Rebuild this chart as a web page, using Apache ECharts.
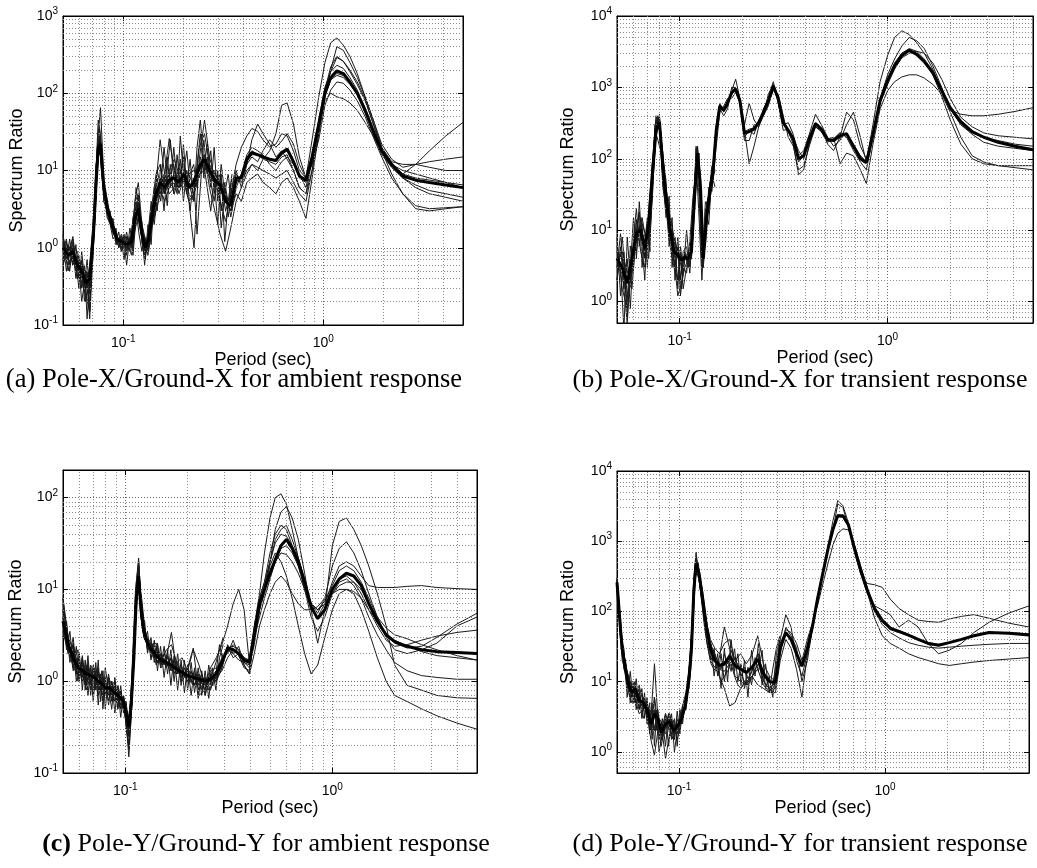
<!DOCTYPE html>
<html><head><meta charset="utf-8">
<script src="https://cdn.jsdelivr.net/npm/echarts@6/dist/echarts.min.js"></script>
<style>html,body{margin:0;padding:0;background:#fff}#c{width:1037px;height:868px}</style>
</head><body><div id="c"></div>
<script>
// ---------- Panel (a): Pole-X/Ground-X ambient ----------
const xA = [0.050,0.053,0.056,0.059,0.062,0.065,0.068,0.071,0.073,0.075,0.077,
0.080,0.084,0.088,0.093,0.098,0.104,0.110,0.115,
0.119,0.124,0.129,0.134,0.140,0.146,0.153,0.161,0.170,
0.180,0.190,0.201,0.213,0.226,0.240,0.255,0.270,0.287,0.305,0.325,0.345,
0.367,0.390,0.415,0.44,0.47,0.50,0.54,0.58,0.62,0.66,0.71,0.76,0.82,0.88,0.95,
1.02,1.09,1.17,1.26,1.36,1.48,1.62,1.78,1.96,2.2,2.5,2.9,3.4,4.1,5.0];
const meanA = [1.0,0.8,0.9,0.6,0.5,0.35,0.4,1.5,6,20,22, 6,3,2,1.3,1.2,1.1,1.2,2.5, 3.2,1.5,1.0,1.3,2.8,5,7,6,7.5, 8,7,9,6,7,11,14,10,7.5,6.5,4,3.5, 8,8,14,17,16,15,14,13.5,17,19,13,8.5,7.5,15,40, 100,160,195,180,140,100,60,32,18,12,8.5,7.5,7,6.5,6.0];
const a1 = [1.4,0.7,1.2,0.5,0.7,0.25,0.15,2.0,9,45,30, 5,2.5,1.8,1.1,1.5,0.9,1.6,4, 5,1.2,0.7,1.8,4,9,12,5,10, 14,9,12,5,4,20,30,12,6,9,3,5, 12,20,28,35,32,25,20,22,30,28,18,10,8,25,90, 250,450,520,420,300,180,90,45,20,12,9,12,18,28,42];
const a2 = [0.7,1.1,0.6,0.8,0.3,0.5,0.12,1.1,4,30,65, 8,3.5,2.2,1.5,0.9,1.3,0.8,2, 4,2,1.3,0.9,2,3,5,8,5, 6,11,7,9,10,8,16,9,10,5,6,2.5, 6,9,12,25,40,30,22,15,18,14,10,6,5,10,30, 90,200,400,360,250,160,90,45,22,14,11,12,13,14,15];
const a3 = [1.1,0.9,1.3,0.4,0.6,0.2,0.6,2.5,12,15,18, 4,2.8,2.4,1.1,1.4,1.0,1.2,4.4, 7,2,0.8,1.5,3,7,25,9,26, 10,5,8,4,1.0,14,45,15,8,4,2.2,5, 10,6,9,12,10,14,18,30,70,75,40,15,8,12,35, 110,220,300,260,190,130,80,40,20,13,12,12,11,10,10];
const a4 = [0.9,0.6,0.8,0.7,0.4,0.4,0.3,1.3,5,18,20, 7,3.2,1.9,1.4,1.1,1.2,1.0,1.8, 2.5,1.6,1.2,1.0,2.2,4,6,4,6, 7,6,10,9,6,10,12,8,7,8,5,3, 5,4,7,8,9,7,6,5,7,8,6,4,2.4,8,30, 90,150,180,170,140,100,60,30,16,11,8,6,5,4.5,4];
const a5 = [1.2,0.5,1.0,0.9,0.5,0.3,0.5,1.8,7,25,24, 6,2.6,1.7,1.2,1.3,1.0,1.4,2.8, 3,1.3,0.9,1.4,3.5,6,5,7,9, 5,8,7,4,5,12,16,6,3,1.5,0.9,1.8, 4,6,12,15,13,18,25,20,24,30,22,12,8,12,25, 70,110,140,135,110,80,50,27,15,8,5,3.5,3.2,3.3,3.4];
const a6 = [0.8,1.0,0.7,0.6,0.35,0.45,0.2,1.0,5,20,28, 6,3,2,1.4,1.2,1.1,1.1,2.2, 3,1.4,1.1,1.2,2.5,4,8,5,7, 9,6,8,7,5,9,10,12,9,7,4,3, 7,9,16,20,18,16,12,10,13,15,12,9,6,15,45, 120,190,230,210,160,110,65,35,19,12,10,9,8,7,6];
const a7 = [1.0,0.7,1.1,0.5,0.6,0.3,0.35,1.6,6,15,19, 5,2.7,2.1,1.3,1.2,1.1,1.3,3, 4,1.6,1.0,1.3,3,5,7,6,8, 8,7,9,6,8,12,13,10,7,6,4.5,4, 9,7,10,12,11,10,9,8,9,10,7,5,4,10,40, 80,100,90,85,75,60,42,28,17,11,8,6.5,5.5,5,4.5];
const a8 = [1.3,0.8,0.9,0.4,0.5,0.5,0.3,1.4,5,22,24, 6,3.1,2,1.2,1.1,1.2,1.1,2.4, 3,1.5,0.9,1.4,2.8,5,7,6,7, 8,8,8,6,7,10,14,11,8,7,4,4, 7,8,15,18,16,14,13,12,15,16,10,6,5,14,40, 110,190,290,260,200,140,85,40,18,9,5,3.2,3,3.2,3.4];
const a9 = [0.6,1.0,0.8,0.6,0.4,0.4,0.5,1.5,6,20,22, 6,3,2,1.3,1.3,1.0,1.3,2.6, 3.4,1.5,1.0,1.2,2.6,5,6,6,7, 8,6,9,6,7,12,13,10,8,6,4,3.5, 8,8,13,16,16,15,14,13,16,18,13,8,7,15,38, 95,150,170,160,130,95,60,32,18,12,9,8,7.5,7,6.5];

// Dense short-period grid for the noisy records (shared by all panels)
const xN = [0.050,0.052,0.054,0.056,0.058,0.060,0.062,0.064,0.066,0.068,0.070,0.072,0.074,0.076,0.078,0.080,
0.083,0.086,0.089,0.092,0.095,0.098,0.101,0.104,
0.108,0.112,0.116,0.120,0.124,0.128,
0.133,0.138,0.143,0.148,
0.154,0.160,0.166,0.172,
0.179,0.186,0.193,0.200,
0.208,0.216,0.225,0.234,0.243,0.253,0.263,0.274,0.285,0.297,0.309,0.322,0.335,0.35];
const nA1 = [1.5,0.7,1.3,0.6,1.1,0.4,0.7,0.2,0.5,0.15,0.8,2,12,35,15,7, 3.5,2.2,2.4,1.2,1.6,0.9,1.5,0.8, 1.8,1.0,4,2,1.4,0.6, 2,1.1,6,3, 12,5,15,6, 20,7,14,4, 10,3,8,1.5,6,25,9,18,5,10,3,7,2.5,6];
const nA2 = [0.7,1.2,0.5,1.0,0.4,0.8,0.3,0.6,0.12,0.4,1.3,4,18,25,9,5, 2.8,3,1.5,1.8,1.0,1.4,1.1,1.6, 0.9,2.5,3,1.5,0.9,1.4, 0.8,3,2.5,8, 4,9,3.5,12, 5,16,6,22, 6,14,4,12,30,8,15,6,20,4,12,5,9,3];
const nA3 = [1.1,0.5,0.9,1.4,0.7,0.3,0.9,0.4,0.3,0.6,0.5,3,8,28,10,6, 2.5,2,1.3,1.5,1.0,1.3,0.7,1.4, 1.1,1.6,6,3,2.2,1.0, 1.5,4,2,5, 8,3,10,25, 8,5,28,9, 18,6,4,20,45,12,6,3,8,2,9,1.2,4,9];
const nA4 = [0.9,1.3,0.6,0.8,0.5,0.6,0.2,0.35,0.7,0.25,1.0,2.5,10,22,18,4, 3,2.7,2,1.1,1.3,1.0,1.2,0.6, 1.4,0.8,2.5,4.5,1.2,0.8, 1.0,2,4,10, 6,20,8,9, 12,6,9,15, 5,9,12,6,15,10,22,7,4,9,1.8,5,3.5,8];

// ---------- Panel (b): Pole-X/Ground-X transient ----------
const xB = [0.050,0.053,0.056,0.059,0.062,0.065,0.068,0.071,0.074,0.077,
0.080,0.083,0.086,0.090,0.094,0.098,0.102,0.106,0.110,0.114,
0.118,0.122,0.126,0.130,0.135,0.140,0.145,0.150,0.156,0.163,
0.170,0.178,0.186,0.195,0.205,0.216,0.228,0.240,0.253,0.267,
0.282,0.298,0.315,0.333,0.352,0.373,0.395,0.42,0.45,0.48,
0.515,0.55,0.59,0.635,0.685,0.74,0.79,0.85,0.92,1.0,
1.08,1.17,1.27,1.38,1.50,1.65,1.82,2.0,2.25,2.55,2.9,3.4,4.1,5.0];
const meanB = [4,3,1.8,4,9,10,5.5,12,60,250, 330,80,30,10,5,4.5,3.8,4.2,4,5, 30,120,40,4,15,35,70,250,550,480, 600,850,950,650,230,240,260,320,450,650, 1050,700,320,250,190,100,110,190,310,260, 185,180,210,225,150,100,88,220,650,1250, 2000,2800,3300,2900,2300,1600,900,520,330,240,200,170,150,134];
const b1 = [6,1.5,0.8,3,14,5,3,20,90,400, 250,50,20,6,3,2,2.5,5,3,8, 50,140,25,5,12,45,90,300,600,450, 550,900,1300,700,300,600,350,280,500,700, 1200,600,300,320,220,110,130,220,420,300, 200,150,180,300,450,200,90,300,1200,2800, 5000,6200,5500,4200,3000,1800,900,480,420,400,400,420,460,520];
const b2 = [3,2.5,0.5,6,5,15,9,4,40,200, 350,120,40,15,8,5,3,4,5,4, 20,100,60,3,25,30,60,150,450,550, 700,700,850,600,200,250,220,350,400,600, 900,800,400,200,150,70,80,150,280,240, 170,190,230,200,130,90,70,200,700,1500, 2500,3800,5000,4500,3500,2000,1000,500,300,220,170,150,140,130];
const b3 = [2,8,1.2,2.5,7,12,4,7,30,300, 400,100,25,8,4,1.2,1.8,3,4,6, 30,150,35,3,18,40,80,280,500,400, 500,1000,1000,600,180,180,300,300,420,800, 1100,600,250,260,200,130,100,170,280,250, 160,130,200,450,350,150,100,200,600,1100, 1800,2600,3000,3200,3000,2200,1300,700,380,280,230,210,200,190];
const b4 = [5,4,2,1.5,10,8,6,15,80,350, 300,60,20,12,7,5,1.5,4,3.5,4, 35,130,30,6,16,38,65,220,520,500, 650,800,900,700,250,85,150,280,400,550, 950,700,350,240,160,60,70,160,300,260, 190,200,85,120,110,70,45,160,500,900, 1200,1400,1500,1500,1350,1100,800,450,200,110,90,80,75,70];
const b5 = [3.5,5,2.5,4,8,10,7,10,60,220, 320,90,35,10,5,4,4,4.5,4,5, 28,110,45,4,20,45,75,260,560,500, 600,850,950,650,220,250,260,330,460,650, 1050,650,320,250,200,100,110,190,320,270, 190,180,200,220,160,110,90,230,650,1300, 2200,3000,3400,3000,2300,1500,750,350,160,100,85,80,80,80];
const b6 = [4,3,2,3,9,11,5,11,55,260, 350,70,30,9,4,4.5,3.8,4,4.2,5, 30,120,40,5,22,40,70,240,540,470, 580,820,950,640,240,260,270,330,440,640, 1050,680,330,240,190,90,110,190,300,260, 180,190,230,220,150,110,90,220,640,1300, 2100,3000,3500,3200,2500,1700,950,500,300,230,200,180,160,150];
const nB1 = [8,1.2,5,0.6,3,15,4,25,6,2,12,5,90,120,400,250, 60,15,30,3,8,1.5,6,2.5, 10,3,8,140,30,3, 20,12,60,40];
const nB2 = [2,6,1.5,4,0.8,8,20,6,15,9,3,30,40,250,200,150, 100,50,8,15,2,6,1.2,3, 2.5,7,30,60,120,8, 6,40,35,100];
const nB3 = [5,3,0.4,8,2,4,10,18,3,7,15,8,30,300,280,420, 40,20,15,5,3,8,2,5, 6,2.5,20,100,15,2, 25,20,45,70];
const nB4 = [3,9,2,1,6,3,14,9,12,4,6,12,60,180,350,300, 120,35,6,10,4,2,5,1.5, 3,5,12,150,80,4, 10,30,80,80];

// ---------- Panel (c): Pole-Y/Ground-Y ambient ----------
const xC = [0.050,0.053,0.056,0.059,0.062,0.065,0.068,0.071,0.074,0.077,
0.080,0.083,0.086,0.089,0.092,0.095,0.098,0.101,0.104,0.107,
0.110,0.113,0.116,0.119,0.123,0.128,0.134,0.141,0.149,0.158,
0.167,0.177,0.188,0.200,0.213,0.227,0.242,0.258,0.275,0.293,
0.312,0.332,0.353,0.375,0.398,0.42,0.445,0.47,0.50,0.53,
0.565,0.60,0.64,0.685,0.735,0.79,0.85,0.92,1.0,1.08,
1.17,1.27,1.38,1.50,1.65,1.82,2.0,2.3,2.7,3.2,4.0,5.0];
const meanC = [4.5,2.5,1.8,1.4,1.3,1.2,1.15,1.1,1.0,0.95, 0.85,0.85,0.8,0.75,0.7,0.65,0.6,0.45,0.32,0.6, 1.8,8,14,6,3.5,2.6,2.2,1.9,1.7,1.6, 1.5,1.35,1.25,1.15,1.1,1.05,1.0,1.05,1.2,1.6, 2.3,2.2,2.0,1.7,1.6,3.3,7,10,15,21, 30,35,28,20,12,6.5,4.8,6,10,13, 15,14,11,7,4.5,3.2,2.7,2.4,2.2,2.1,2.05,2.0];
const c1 = [8,3,2.2,1.0,1.8,0.9,1.5,1.2,0.7,1.3, 0.7,1.1,0.9,0.6,0.8,0.5,0.7,0.35,0.2,0.5, 2,12,22,5,3,2.8,1.8,2.3,1.5,1.9, 1.4,1.6,1.1,1.3,0.9,1.1,0.8,1.2,1.0,1.4, 2.5,2,2.4,1.5,1.2,4,9,25,60,100, 110,85,45,22,10,5,3.5,5,9,12, 13,11,8,5,3.2,2.2,1.6,1.3,1.15,1.1,1.05,1.05];
const c2 = [5,2.2,1.5,1.6,1.0,1.4,0.9,1.0,1.2,0.8, 1.0,0.7,0.9,0.8,0.6,0.8,0.5,0.5,0.28,0.7, 1.5,7,18,7,4,2.5,2.6,1.5,2,1.4, 1.8,1.2,1.4,1.0,1.2,0.9,1.1,0.8,1.3,1.8, 2,2.8,1.9,1.4,1.3,3,6,9,20,45, 70,80,60,35,15,6,2.6,6,30,55, 60,45,30,18,9,4,1.5,0.9,0.8,0.7,0.66,0.65];
const c3 = [3,2.8,1.4,1.2,1.6,1.0,1.2,1.3,0.9,1.1, 0.8,0.9,0.7,0.9,0.7,0.6,0.7,0.5,0.4,0.8, 2,9,13,6,3.2,2.4,2.5,1.8,1.8,1.5, 1.6,1.3,1.2,1.2,1.1,1.0,0.9,1.1,1.3,1.5, 2.2,2.5,2.2,1.8,1.6,3.5,8,12,25,40, 50,45,30,18,10,6,5,7,12,18, 20,18,14,11,10.5,10.5,10.5,10.8,11,10.5,10.2,10];
const c4 = [4,2,2.5,1.4,1.1,1.5,1.0,0.8,1.3,0.9, 0.9,0.6,1.0,0.7,0.8,0.55,0.6,0.4,0.25,0.5, 1.6,8,15,6,3.8,2.8,2,2.1,1.6,1.7, 1.3,1.5,1.0,1.3,1.2,0.8,1.0,1.1,1.0,1.4, 2.4,1.8,2.0,1.6,1.8,4,8,12,20,32, 40,38,30,22,13,7,5.5,8,18,28, 33,25,16,9,5,3.2,2.6,2.3,2.4,3,4.2,5.5];
const c5 = [6,3,1.3,1.8,1.2,1.0,1.4,1.0,1.0,0.7, 0.8,1.0,0.6,0.8,0.5,0.7,0.55,0.45,0.3,0.6, 2,6,12,5,3.4,2.5,2.3,1.7,1.6,1.5, 1.7,1.2,1.3,1.0,1.0,1.2,0.9,1.0,1.1,1.5, 2.2,2,1.7,1.6,1.5,3,5,8,13,20, 28,30,25,18,11,7,6,7,10,13, 14,12,9,6,4,2.8,2.4,2.5,2.8,3.1,3.4,3.6];
const c6 = [3.5,2,2.4,1.5,1.4,0.8,1.2,1.4,0.8,1.0, 0.9,0.8,0.7,0.6,0.9,0.65,0.5,0.5,0.35,0.6, 2,8,14,6,3,2.6,2.4,1.8,1.9,1.6, 1.4,1.4,1.2,1.1,0.9,1.0,1.1,0.9,1.1,1.3, 1.8,2.2,1.9,1.5,1.2,2,4,6,9,12, 14,12,9,7,6,6,6.5,8,9,10, 10,9.5,8,6,4.5,3.3,2.8,2.4,2.1,1.9,1.8,1.7];
const c7 = [5,2.6,1.8,1.2,1.5,1.1,1.0,1.1,1.2,0.9, 0.7,0.8,0.8,0.9,0.6,0.6,0.65,0.55,0.35,0.7, 1.7,7,13,6,3.6,3,2.5,2.6,1.7,2.2, 2.5,1.6,1.8,1.3,2.2,1.5,0.9,1.4,1.8,2.5, 4,7,10,6,1.5,2.5,6,10,18,25, 20,14,8,4,2,1.2,1.5,3,6,9, 10,9,6,3.5,1.8,1.0,0.7,0.6,0.5,0.42,0.35,0.3];
const c8 = [4,2.5,2,1.4,1.3,1.3,1.1,1.2,1.0,1.0, 0.9,0.9,0.85,0.75,0.7,0.7,0.6,0.45,0.3,0.55, 1.9,8,14,6,3.6,2.6,2.1,2,1.7,1.6, 1.5,1.4,1.3,1.2,1.2,1.1,1.0,1.0,1.1,1.5, 2.2,2.3,2,1.8,1.7,3.4,7,10,14,20, 25,24,20,15,10,7,6,7,9,11, 12,12,10,7,5,3.8,3.2,2.9,2.5,2.2,1.9,1.7];
const c9 = [7,2.8,1.6,2.2,1.1,1.4,1.2,0.9,1.1,1.2, 0.8,0.7,0.9,1.0,0.6,0.5,0.6,0.35,0.15,0.45, 1.5,9,20,8,4.5,2.2,2.4,2.4,1.4,1.8, 3.4,1.3,1.1,1.4,2.3,0.7,0.8,1.3,1.4,1.7, 2.3,2.4,2.2,1.6,1.4,3,6,11,20,35, 45,50,35,22,12,7,6,7.5,11,16, 18,16,12,8,5,3,2.2,2,2.2,2.6,4,5];
const nC1 = [6,2.2,3.5,1.4,2.4,1.0,1.9,0.9,1.6,0.7,1.5,0.8,1.7,0.6,1.3,0.5, 1.1,0.6,1.0,0.5,0.9,0.45,0.6,0.25, 0.9,6,18,5,4.5,2, 3,1.6,2.6,1.4, 2.4,1.2,2.2,1.0,2.0,0.9, 1.7,0.8,1.6,0.75,1.4,0.7,1.3,0.65,1.4,0.8,1.8,2.5];
const nC2 = [3,4.5,1.8,2.6,1.2,2,0.8,1.7,0.7,1.4,0.6,1.3,0.55,1.2,0.5,1.1, 0.55,1.0,0.45,0.9,0.4,0.7,0.3,0.2, 1.5,10,20,4,2.8,3.5, 1.7,2.8,1.3,2.4, 1.1,2.2,0.9,1.9,0.8,1.7, 0.75,1.5,0.7,1.4,0.65,1.3,0.7,1.5,0.9,1.2,2.5,1.6];
const nC3 = [5,2.8,2,3,1.3,1.1,1.8,0.8,1.4,1.0,0.7,1.6,0.8,1.2,0.6,1.4, 0.8,0.5,1.1,0.6,0.8,0.5,0.35,0.18, 0.6,8,16,7,3,2.4, 2.2,1.8,2.5,1.5, 2.0,1.5,1.8,1.2,1.6,1.1, 1.4,1.0,1.3,0.9,1.2,0.8,1.1,0.8,0.9,1.0,1.4,2.0];
const nC4 = [8,3.5,1.6,2.2,1.0,1.6,1.2,1.0,1.9,0.8,1.2,0.9,1.4,0.8,1.1,0.75, 1.2,0.7,0.8,0.6,0.75,0.55,0.5,0.3, 1.2,7,12,8,3.8,2.2, 2.6,2.2,1.6,2.0, 1.5,1.9,1.3,1.7,1.2,1.5, 1.1,1.4,1.0,1.3,0.9,1.2,0.7,1.0,1.2,1.6,2.2,3];

// ---------- Panel (d): Pole-Y/Ground-Y transient ----------
const xD = [0.050,0.051,0.052,0.053,0.055,0.057,0.059,0.061,0.064,0.067,
0.070,0.073,0.076,0.079,0.082,0.086,0.090,0.094,0.098,0.103,
0.108,0.112,0.115,0.118,0.121,0.125,0.130,0.136,0.142,0.149,
0.157,0.166,0.176,0.187,0.199,0.212,0.226,0.241,0.257,0.275,
0.294,0.31,0.33,0.35,0.372,0.395,0.42,0.445,0.47,0.50,
0.53,0.56,0.59,0.625,0.665,0.71,0.76,0.82,0.89,0.97,
1.06,1.17,1.3,1.45,1.62,1.82,2.05,2.35,2.7,3.2,4.0,5.0];
const meanD = [260,120,55,30,15,9,7,8,5.5,5, 4,2.5,3.5,3,1.9,2.5,2.7,2,2.3,3, 5,12,30,200,480,350,160,60,30,20, 17,18,23,17,15,13.5,16,21,13,10, 9.8,30,50,40,25,16.6,30,62,150,360, 800,1500,2300,2300,1700,800,400,200,110,75, 58,52,46,40,35,33,36,40,45,50,49,46];
const d1 = [300,150,45,35,12,10,6,10,4,6, 3,2,6,2.5,1.2,3,2,1.5,2.8,2.5, 6,10,40,300,700,300,120,40,20,16, 22,60,30,12,10,9,14,25,10,8, 8,40,90,60,20,12,25,55,140,350, 900,2000,3800,3200,1800,800,350,250,240,220, 150,110,90,75,72,70,78,85,90,80,68,60];
const d2 = [250,100,70,25,20,8,9,6,7,4, 5,2,2.2,4,1.5,2,3.5,2.2,1.8,3.5, 4,14,25,150,550,400,170,70,25,25, 15,14,18,22,13,9,12,15,9,7, 12,25,60,45,30,10,20,60,140,350, 800,1500,3400,3000,1600,700,350,180,120,105, 90,60,75,60,35,25,28,35,50,70,95,120];
const d3 = [280,140,40,20,14,7,5,6,3.5,4, 3.5,1.5,0.9,2,2.5,0.8,1.8,1.5,3,2.5, 6,8,20,180,400,280,130,55,35,25, 12,8,4.5,5,8,10,12,9,8,7, 7,20,40,30,15,6,25,60,160,380, 850,1400,2400,2200,1600,850,420,190,80,45, 35,30,25,22,20,18,17,18,19,20,21,22];
const d4 = [220,90,60,25,16,12,8,5,6,3, 4.5,3,18,3,2,3.5,2.2,2.8,1.9,4, 7,15,35,250,600,380,200,70,40,30, 25,35,40,20,25,18,24,45,18,12, 10,35,55,50,35,20,40,70,120,250, 500,900,1300,1500,1450,900,450,220,100,65, 50,42,36,33,31,30,31,32,33,34,35,35];
const d5 = [270,110,50,35,16,9,8,7,5,5.5, 4,2.5,3,3.5,2,2.4,2.5,2.2,2.4,3, 5,11,28,210,500,340,150,55,28,19, 17,17,25,16,16,14,16,20,14,10, 10,30,48,38,24,18,30,60,150,360, 800,1500,2200,2200,1700,800,400,200,100,70, 55,50,45,40,36,34,36,40,45,50,50,48];
const nD1 = [300,40,30,6,14,5,11,4,8,3,6,1.8,5,1.2,4,1.5, 3,1.2,3.5,1.5,3,1.2,4,2.5, 6,10,50,350,500,180, 70,30,35,12, 25,8,30,10,40,14, 25,9,20,6,28,12,35,9,18,7,15,30,45];
const nD2 = [200,80,15,12,5,9,4,8,3,7,2.5,5,1.5,4,2,3, 1.5,3.5,1.2,3,1.5,3.8,1.8,4, 4,14,80,450,380,250, 100,45,20,30, 12,25,10,22,14,30, 10,18,8,16,9,22,14,28,8,12,6,14,30];
const nD3 = [280,65,25,14,6,10,5,9,6,4,5,3.5,2.2,6,2,3, 2.5,1.8,2,3.5,1.0,2,2.5,3, 5,9,40,300,420,220, 90,50,30,25, 20,15,25,18,28,20, 18,12,16,11,14,20,25,15,12,8,9,18,40];
const nD4 = [240,50,18,8,10,6,8,6,4.5,6,3,4,3.5,2,3,1.0, 1.8,2.2,3.5,1.8,2.4,1.5,2.2,4.5, 6,15,70,420,350,160, 60,30,18,15, 14,10,12,14,18,12, 9,8,10,9,11,15,18,12,9,8,7,25,40];

// ---------- Grid-line positions (minor decades) ----------
const minorX = [0.06,0.07,0.08,0.09,0.2,0.3,0.4,0.5,0.6,0.7,0.8,0.9,2,3,4];
const minorYA = [0.2,0.3,0.4,0.5,0.6,0.7,0.8,0.9,2,3,4,5,6,7,8,9,20,30,40,50,60,70,80,90,200,300,400,500,600,700,800,900];
const minorYBD = [0.6,0.7,0.8,0.9,2,3,4,5,6,7,8,9,20,30,40,50,60,70,80,90,200,300,400,500,600,700,800,900,2000,3000,4000,5000,6000,7000,8000,9000];
const minorYC = [0.2,0.3,0.4,0.5,0.6,0.7,0.8,0.9,2,3,4,5,6,7,8,9,20,30,40,50,60,70,80,90];

// ---------- Captions & labels ----------
const captions = ['(a) Pole-X/Ground-X for ambient response','(b) Pole-X/Ground-X for transient response','{b|(c)} Pole-Y/Ground-Y for ambient response','(d) Pole-Y/Ground-Y for transient response'];
const xName = 'Period (sec)';
const yName = 'Spectrum Ratio';

const SANS = 'Liberation Sans';
const SERIF = 'Liberation Serif';
const grids = [
  {left:63, top:16, width:400, height:309},
  {left:617, top:16, width:416, height:307},
  {left:63, top:470, width:414, height:303},
  {left:617, top:471, width:412, height:302}
];
const yRanges = [[0.1,1000],[0.5,10000],[0.1,200],[0.5,10000]];
const yMinors = [minorYA, minorYBD, minorYC, minorYBD];
const yGaps = [37, 40, 38, 40];
const capPos = [[234,367],[800,367],[266,831],[800,831]];
const capSize = [26.5, 26, 26, 26];

function supFmt(v){
  const l = Math.log10(v); const e = Math.round(l);
  if (Math.abs(l - e) > 1e-6) return '';
  return '{b|10}{s|' + e + '}';
}
const rich = {
  b:{fontSize:14, fontFamily:SANS, color:'#000'},
  s:{fontSize:10, fontFamily:SANS, color:'#000', padding:[0,0,9,0]}
};
const tick = {show:true, inside:true, length:5, lineStyle:{color:'#000', width:1}};
const majorSplit = {show:true, lineStyle:{type:[1,2], color:'#666', width:1}};

const xAxes = [], yAxes = [];
for (let g=0; g<4; g++){
  xAxes.push({type:'log', logBase:10, gridIndex:g, min:0.05, max:5,
    axisLine:{show:true, onZero:false, lineStyle:{color:'#000'}}, axisTick:tick,
    axisLabel:{formatter:supFmt, rich:rich, margin:9, showMinLabel:true, showMaxLabel:true},
    splitLine:majorSplit, name:xName, nameLocation:'middle', nameGap:23,
    nameTextStyle:{fontFamily:SANS, fontSize:18, color:'#000'}});
  yAxes.push({type:'log', logBase:10, gridIndex:g, min:yRanges[g][0], max:yRanges[g][1],
    axisLine:{show:true, onZero:false, lineStyle:{color:'#000'}}, axisTick:tick,
    axisLabel:{formatter:supFmt, rich:rich, margin:5, showMinLabel:true, showMaxLabel:true},
    splitLine:majorSplit, name:yName, nameLocation:'middle', nameGap:yGaps[g],
    nameTextStyle:{fontFamily:SANS, fontSize:18, color:'#000'}});
}
for (let g=0; g<4; g++){
  xAxes.push({type:'log', logBase:10, gridIndex:g, min:0.05, max:5, position:'top',
    axisLine:{show:true, onZero:false, lineStyle:{color:'#000'}}, axisTick:tick,
    axisLabel:{show:false}, splitLine:{show:false}});
  yAxes.push({type:'log', logBase:10, gridIndex:g, min:yRanges[g][0], max:yRanges[g][1], position:'right',
    axisLine:{show:true, onZero:false, lineStyle:{color:'#000'}}, axisTick:tick,
    axisLabel:{show:false}, splitLine:{show:false}});
}

function pts(xs, ys){ return ys.map((y,i)=>[xs[i], y]); }
const series = [];
const thinStyle = {color:'#1a1a1a', width:1};
function addPanel(g, xs, mean, thins, noise){
  series.push({type:'line', xAxisIndex:g, yAxisIndex:g, data:[], silent:true, z:1,
    markLine:{silent:true, symbol:['none','none'], animation:false, label:{show:false},
      lineStyle:{type:[1,2], color:'#8a8a8a', width:1},
      data:[...minorX.map(v=>({xAxis:v})), ...yMinors[g].map(v=>({yAxis:v}))]}});
  noise.forEach(t=>series.push({type:'line', xAxisIndex:g, yAxisIndex:g, data:pts(xN,t),
    symbol:'none', showSymbol:false, silent:true, z:3, lineStyle:thinStyle}));
  thins.forEach(t=>series.push({type:'line', xAxisIndex:g, yAxisIndex:g, data:pts(xs,t),
    symbol:'none', showSymbol:false, silent:true, z:3, lineStyle:thinStyle}));
  series.push({type:'line', xAxisIndex:g, yAxisIndex:g, data:pts(xs,mean),
    symbol:'none', showSymbol:false, silent:true, z:5, lineStyle:{color:'#000', width:3}});
}
addPanel(0, xA, meanA, [a1,a2,a3,a4,a5,a6,a7,a8,a9], [nA1,nA2,nA3,nA4]);
addPanel(1, xB, meanB, [b1,b2,b3,b4,b5,b6], [nB1,nB2,nB3,nB4]);
addPanel(2, xC, meanC, [c1,c2,c3,c4,c5,c6,c7,c8,c9], [nC1,nC2,nC3,nC4]);
addPanel(3, xD, meanD, [d1,d2,d3,d4,d5], [nD1,nD2,nD3,nD4]);

const titles = captions.map((t,i)=>({text:t, left:capPos[i][0], top:capPos[i][1], textAlign:'center', padding:0,
  textStyle:{fontFamily:SERIF, fontSize:capSize[i], fontWeight:'normal', color:'#000',
    rich:{b:{fontFamily:SERIF, fontSize:capSize[i], fontWeight:'bold', color:'#000'}}}}));

const chart = echarts.init(document.getElementById('c'), null, {renderer:'canvas'});
chart.setOption({
  animation:false, backgroundColor:'#fff',
  title:titles,
  grid:grids.map(g=>Object.assign({show:true, borderColor:'#000', borderWidth:1, backgroundColor:'#fff', containLabel:false}, g)),
  xAxis:xAxes, yAxis:yAxes, series:series
});
</script></body></html>
